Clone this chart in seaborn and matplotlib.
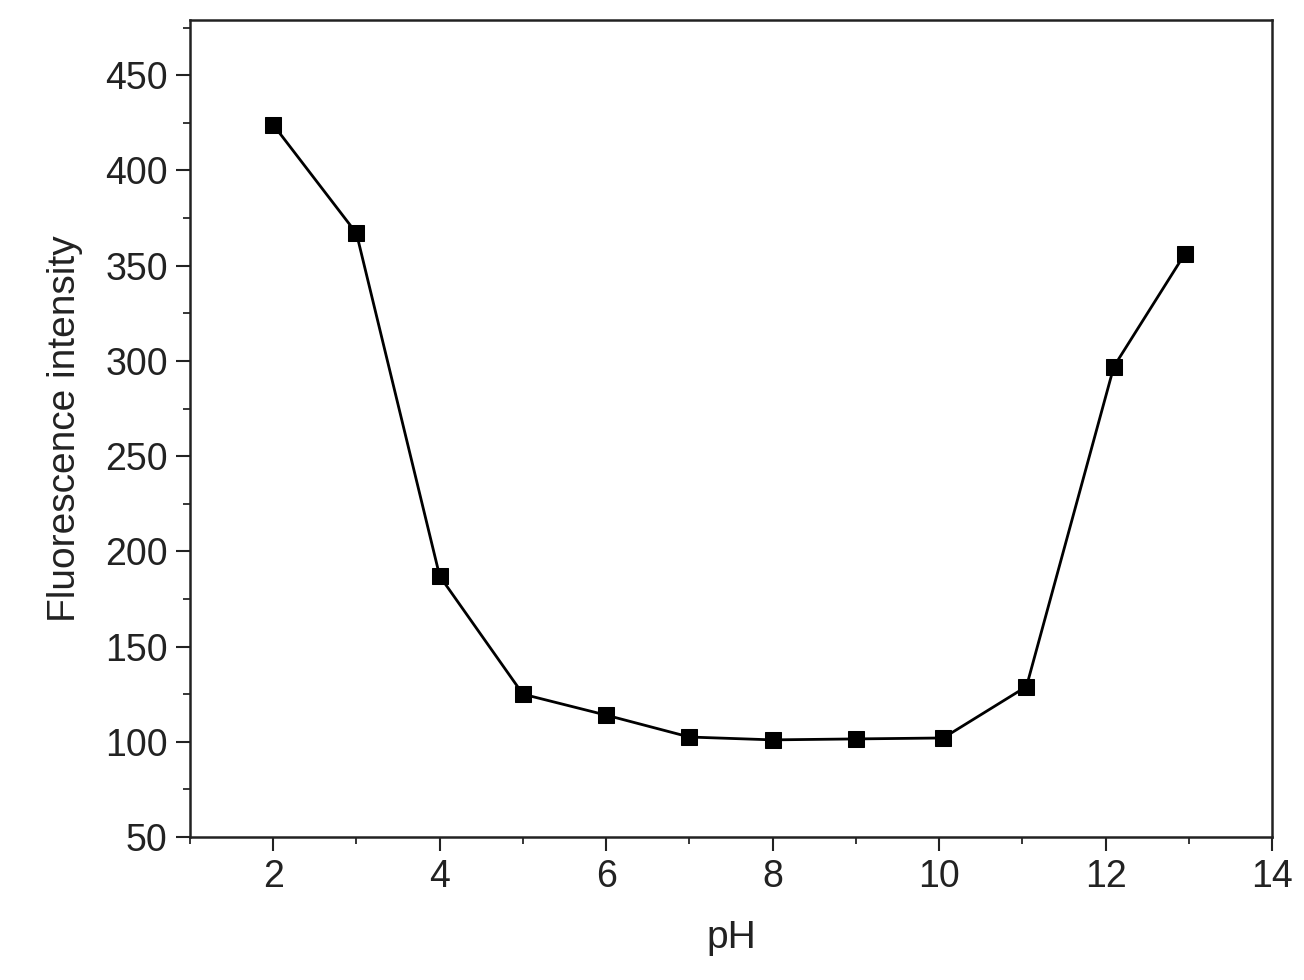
import matplotlib
matplotlib.use("Agg")
import matplotlib.pyplot as plt
import seaborn as sns
import pandas as pd
from matplotlib.ticker import MultipleLocator

ph = [2, 3, 4, 5, 6, 7, 8, 9, 10.05, 11.05, 12.1, 12.95]
intensity = [424, 367, 187, 125, 114, 102.5, 101, 101.5, 102, 129, 297, 356]
df = pd.DataFrame({"pH": ph, "Fluorescence intensity": intensity})

sns.set_theme(style="ticks")
plt.rcParams['font.family'] = ['Liberation Sans', 'DejaVu Sans']

fig = plt.figure(figsize=(13.04, 9.8), dpi=100)
ax = fig.add_axes([190/1304, 1-837/980, (1272-190)/1304, (837-20)/980])
sns.lineplot(data=df, x="pH", y="Fluorescence intensity", ax=ax, color="black",
             marker="s", markersize=12, linewidth=2, markeredgecolor="black")
ax.set_xlim(1, 14)
ax.set_ylim(50, 479)
ax.xaxis.set_major_locator(MultipleLocator(2))
ax.xaxis.set_minor_locator(MultipleLocator(1))
ax.yaxis.set_major_locator(MultipleLocator(50))
ax.yaxis.set_minor_locator(MultipleLocator(25))
ax.tick_params(which="major", length=10, width=1.5, labelsize=27, colors="#222222", pad=6)
ax.tick_params(which="minor", length=5, width=1.3)
for s in ax.spines.values():
    s.set_linewidth(1.8)
    s.set_color("#222222")
ax.set_xlabel("pH", fontsize=28, color="#222222", labelpad=18)
ax.set_ylabel("Fluorescence intensity", fontsize=28, color="#222222", labelpad=16)
fig.savefig("out.png", dpi=100)
